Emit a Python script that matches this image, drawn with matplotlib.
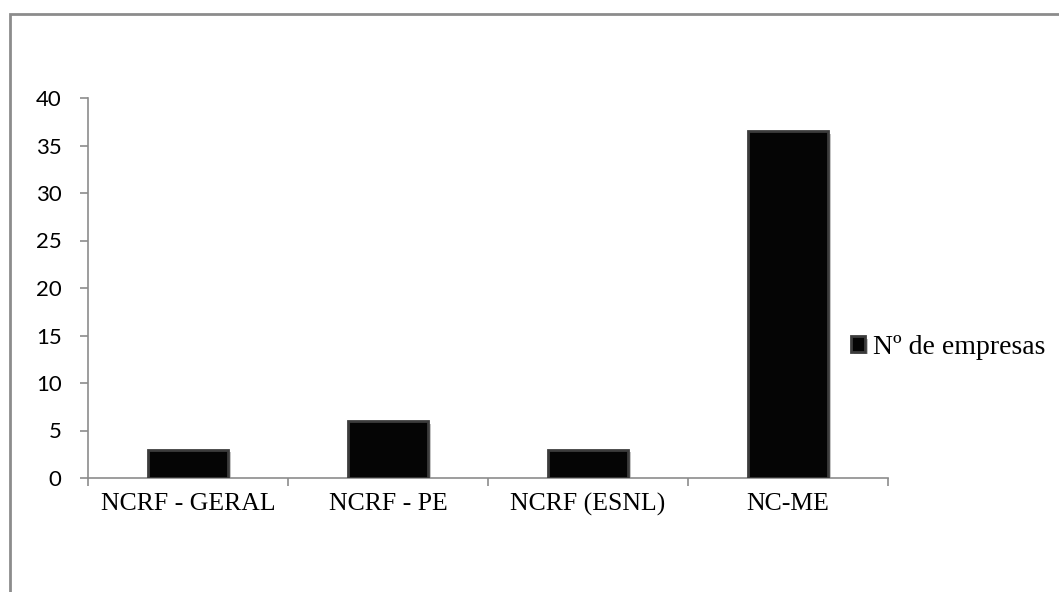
import matplotlib.pyplot as plt
import matplotlib.patheffects as pe
from matplotlib.patches import Rectangle

# data
categories = ['NCRF - GERAL', 'NCRF - PE', 'NCRF (ESNL)', 'NC-ME']
empresas = [3, 6, 3, 36.5]
y_ticks = [0, 5, 10, 15, 20, 25, 30, 35, 40]
series_name = 'Nº de empresas'

fig = plt.figure(figsize=(10.59, 5.92), dpi=100)
ax = fig.add_axes([88 / 1059, 1 - 478 / 592, 800 / 1059, 380 / 592])

# outer chart frame (clipped on the right and bottom like the original)
frame = Rectangle((10 / 1059, -0.2), 1.2, 0.2 + (1 - 14 / 592),
                  transform=fig.transFigure, fill=False,
                  edgecolor='#8c8c8c', linewidth=2, clip_on=False)
fig.patches.append(frame)

pos = [i + 0.5 for i in range(len(categories))]
bars = ax.bar(pos, empresas, width=0.4, color='#050505',
              edgecolor='#3c3c3c', linewidth=2, label=series_name, zorder=3)
for b in bars:
    b.set_path_effects([pe.SimplePatchShadow(offset=(2, -2), shadow_rgbFace='#888888', alpha=0.5),
                        pe.Normal()])

ax.set_xlim(0, len(categories))
ax.set_ylim(0, 40)

for s in ['top', 'right']:
    ax.spines[s].set_visible(False)
for s in ['left', 'bottom']:
    ax.spines[s].set_color('#8c8c8c')
    ax.spines[s].set_linewidth(1.2)

ax.set_yticks(y_ticks)
ax.set_yticklabels([str(v) for v in y_ticks], fontfamily='Lato', fontsize=16)
ax.tick_params(axis='y', direction='out', length=6, width=1.2, color='#8c8c8c', pad=13)

# category boundaries as major ticks, labels on minor ticks in the middle
ax.set_xticks(range(len(categories) + 1))
ax.set_xticklabels([])
ax.tick_params(axis='x', which='major', direction='out', length=6, width=1.2, color='#8c8c8c')
ax.set_xticks(pos, minor=True)
ax.set_xticklabels(categories, minor=True, fontfamily='Liberation Serif', fontsize=18.5)
ax.tick_params(axis='x', which='minor', length=0, pad=11)

leg = fig.legend(handles=[bars], labels=[series_name], loc='center left',
                 bbox_to_anchor=(826 / 1059, 1 - 347 / 592), frameon=False,
                 prop={'family': 'Liberation Serif', 'size': 20},
                 handlelength=0.5, handleheight=0.5, handletextpad=0.3)

fig.savefig('out.png', dpi=100)
